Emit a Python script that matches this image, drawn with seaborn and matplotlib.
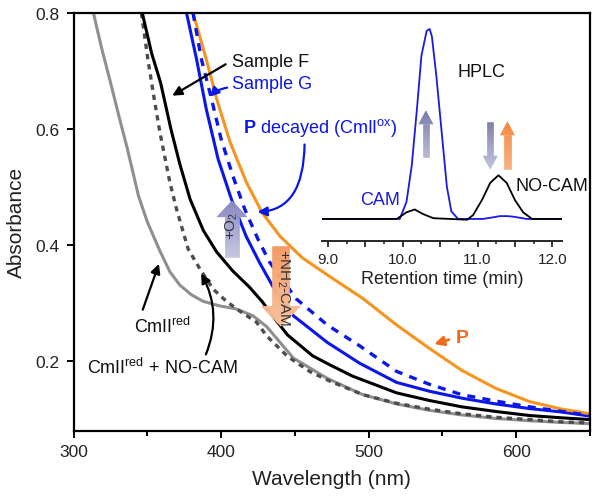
import numpy as np
import seaborn as sns
import matplotlib
matplotlib.use("Agg")
import matplotlib.pyplot as plt
from matplotlib.patches import Polygon
from matplotlib.colors import to_rgb
from matplotlib.ticker import MultipleLocator

# ---- UV-vis spectra (wavelength nm, absorbance) ----
cmii_red_wl = [313.5, 319, 325, 331, 336.5, 344, 350, 358.5, 365.3, 372, 380, 387.8, 399, 410, 421.6, 431, 449, 472, 496, 519, 541, 563, 586, 609, 631, 650]
cmii_red_a = [0.80, 0.74, 0.681, 0.62, 0.566, 0.485, 0.44, 0.39, 0.354, 0.331, 0.314, 0.303, 0.295, 0.290, 0.278, 0.259, 0.205, 0.170, 0.142, 0.126, 0.115, 0.107, 0.101, 0.097, 0.094, 0.092]

cmii_nocam_wl = [346, 350.4, 354.5, 358.5, 365.3, 369.8, 377.7, 385.6, 394.6, 403.6, 412.7, 424, 431, 445, 460, 474, 496, 519, 541, 563, 586, 609, 631, 650]
cmii_nocam_a = [0.80, 0.72, 0.655, 0.595, 0.508, 0.462, 0.393, 0.359, 0.324, 0.303, 0.286, 0.267, 0.243, 0.208, 0.182, 0.165, 0.142, 0.127, 0.117, 0.109, 0.103, 0.099, 0.095, 0.093]

sample_f_wl = [346.6, 353, 359, 366, 372, 379, 388, 397, 408, 419, 428, 433, 445, 462, 474, 489, 519, 541, 563, 586, 609, 631, 650]
sample_f_a = [0.80, 0.73, 0.68, 0.60, 0.54, 0.479, 0.425, 0.388, 0.355, 0.328, 0.302, 0.284, 0.245, 0.209, 0.193, 0.174, 0.145, 0.132, 0.121, 0.113, 0.106, 0.102, 0.099]

sample_g_wl = [376.6, 383.4, 390, 398, 407, 417, 426, 435, 449, 472, 494, 519, 541, 563, 586, 609, 631, 650]
sample_g_a = [0.80, 0.72, 0.634, 0.548, 0.479, 0.415, 0.37, 0.329, 0.278, 0.232, 0.196, 0.163, 0.148, 0.136, 0.126, 0.118, 0.112, 0.105]

p_decayed_wl = [381, 386.7, 393.5, 400, 408, 416, 425, 433, 451, 472, 494, 519, 541, 563, 586, 609, 631, 650]
p_decayed_a = [0.80, 0.72, 0.652, 0.583, 0.519, 0.462, 0.41, 0.37, 0.307, 0.262, 0.226, 0.182, 0.160, 0.142, 0.131, 0.121, 0.113, 0.106]

p_wl = [381, 390, 397, 406, 417, 428, 440, 455, 474, 496, 519, 541, 563, 586, 609, 631, 650]
p_a = [0.80, 0.72, 0.652, 0.578, 0.509, 0.455, 0.415, 0.378, 0.345, 0.308, 0.262, 0.222, 0.184, 0.153, 0.130, 0.117, 0.109]

# ---- HPLC inset (retention time min, normalised signal) ----
hplc_cam_t = [8.92, 9.5, 9.96, 10.05, 10.12, 10.19, 10.25, 10.32, 10.36, 10.39, 10.45, 10.52, 10.59, 10.65, 10.74, 11.07, 11.2, 11.3, 11.4, 11.48, 11.66, 12.13]
hplc_cam_i = [0.0, 0.0, 0.0, 0.09, 0.28, 0.58, 0.86, 0.99, 1.0, 0.96, 0.75, 0.46, 0.17, 0.04, 0.0, 0.0, 0.008, 0.015, 0.015, 0.012, 0.0, 0.0]

hplc_f_t = [8.92, 9.5, 9.92, 10.05, 10.16, 10.27, 10.41, 10.86, 10.94, 11.06, 11.17, 11.28, 11.39, 11.5, 11.61, 11.73, 12.13]
hplc_f_i = [0.0, 0.0, 0.0, 0.035, 0.05, 0.026, 0.004, -0.004, 0.02, 0.1, 0.19, 0.23, 0.19, 0.1, 0.035, 0.0, 0.0]

sns.set_theme(style="ticks")
plt.rcParams["font.family"] = ["Liberation Sans", "DejaVu Sans"]
plt.rcParams["mathtext.fontset"] = "custom"
plt.rcParams["mathtext.rm"] = "Liberation Sans"
plt.rcParams["mathtext.bf"] = "Liberation Sans:bold"
plt.rcParams["mathtext.it"] = "Liberation Sans:italic"

fig = plt.figure(figsize=(6, 5.02), dpi=100)
ax = fig.add_axes([73.5 / 600, 1 - 431.6 / 502, 516.5 / 600, 417.6 / 502])

ORANGE = "#f7941d"
BLUE = "#0b16e8"

sns.lineplot(x=cmii_red_wl, y=cmii_red_a, ax=ax, color="#8f8f8f", lw=2.2)
sns.lineplot(x=cmii_nocam_wl, y=cmii_nocam_a, ax=ax, color="#4d4d4d", lw=2.4)
ax.lines[-1].set_dashes([1.6, 1.5])
sns.lineplot(x=sample_f_wl, y=sample_f_a, ax=ax, color="black", lw=2.2)
sns.lineplot(x=sample_g_wl, y=sample_g_a, ax=ax, color=BLUE, lw=2.2)
sns.lineplot(x=p_wl, y=p_a, ax=ax, color=ORANGE, lw=2.2)
sns.lineplot(x=p_decayed_wl, y=p_decayed_a, ax=ax, color=BLUE, lw=2.4)
ax.lines[-1].set_dashes([2.4, 2.2])

ax.set_xlim(300, 650)
ax.set_ylim(0.08, 0.8)
ax.xaxis.set_major_locator(MultipleLocator(100))
ax.xaxis.set_minor_locator(MultipleLocator(50))
ax.yaxis.set_major_locator(MultipleLocator(0.2))
ax.tick_params(axis="both", which="major", direction="out", length=5, width=1.4,
               labelsize=12.5, color="black", labelcolor="#222222", pad=5)
ax.tick_params(axis="x", which="minor", direction="out", length=3.5, width=1.4, color="black")
for s in ax.spines.values():
    s.set_linewidth(1.6)
    s.set_color("black")
ax.set_xlabel("Wavelength (nm)", fontsize=15, labelpad=7, color="#222222")
ax.set_ylabel("Absorbance", fontsize=15, labelpad=7, color="#222222")

# ---- inset ----
ins = fig.add_axes([322 / 600, 1 - 242 / 502, 240 / 600, 217 / 502])
ins.patch.set_alpha(0)
sns.lineplot(x=hplc_cam_t, y=hplc_cam_i, ax=ins, color="#1a1ae0", lw=1.3)
sns.lineplot(x=hplc_f_t, y=hplc_f_i, ax=ins, color="black", lw=1.3)
ins.set_xlim(8.92, 12.13)
ins.set_ylim(-0.116, 1.026)
for k in ["left", "right", "top"]:
    ins.spines[k].set_visible(False)
ins.spines["bottom"].set_linewidth(1.4)
ins.set_yticks([])
ins.xaxis.set_major_locator(MultipleLocator(0.5))
ins.xaxis.set_minor_locator(MultipleLocator(0.25))
ins.xaxis.set_major_formatter(lambda v, p: f"{v:.1f}" if abs(v - round(v)) < 1e-6 else "")
ins.tick_params(axis="x", which="major", direction="out", length=4.5, width=1.3, labelsize=11, pad=3.5, labelcolor="#222222")
ins.tick_params(axis="x", which="minor", direction="out", length=2.5, width=1.2)
ins.set_xlabel("Retention time (min)", fontsize=13, labelpad=3, color="#222222")
ins.set_ylabel("")
ins.text(11.05, 0.774, "HPLC", fontsize=13, ha="center", va="center", color="#111111")
ins.text(9.70, 0.105, "CAM", fontsize=13, ha="center", va="center", color="#1a1ae0")
ins.text(11.99, 0.174, "NO-CAM", fontsize=13, ha="center", va="center", color="#111111")


def grad_arrow(a, tail, tip, body_w, head_w, head_len, c_tail, c_tip, n=24):
    to_px = a.transData.transform
    p0 = np.array(to_px(tail))
    p1 = np.array(to_px(tip))
    d = p1 - p0
    L = np.hypot(*d)
    u = d / L
    nrm = np.array([-u[1], u[0]])
    sb = L - head_len
    st = np.concatenate([np.linspace(0, sb, n + 1), np.linspace(sb, L, n + 1)[1:]])
    ca, cb = np.array(to_rgb(c_tail)), np.array(to_rgb(c_tip))
    inv = a.transData.inverted()
    for i in range(len(st) - 1):
        s0, s1 = st[i], st[i + 1]
        if s1 <= sb + 1e-9:
            w0 = w1 = body_w / 2
        else:
            w0 = head_w / 2 * (L - s0) / head_len
            w1 = head_w / 2 * (L - s1) / head_len
        pts = [p0 + u * s0 + nrm * w0, p0 + u * s1 + nrm * w1,
               p0 + u * s1 - nrm * w1, p0 + u * s0 - nrm * w0]
        c = ca + (cb - ca) * ((s0 + s1) / 2 / L)
        a.add_patch(Polygon(inv.transform(pts), closed=True, fc=c, ec=c, lw=0.4, clip_on=False, zorder=5))


fig.canvas.draw()
# main-panel block arrows
grad_arrow(ax, (407.4, 0.379), (407.4, 0.476), 14, 30, 16, "#c6c6e2", "#8888c0")
ax.text(407.4, 0.434, "+O$_2$", rotation=90, fontsize=11, ha="center", va="center", color="#333333", zorder=6)
grad_arrow(ax, (440.5, 0.398), (440.5, 0.260), 17, 39, 20, "#f29a66", "#f8c29c")
ax.text(441.9, 0.328, "+NH$_2$-CAM", rotation=270, fontsize=11, ha="center", va="center", color="#333333", zorder=6)
# inset block arrows
grad_arrow(ins, (10.31, 0.326), (10.31, 0.568), 6.5, 14, 13, "#b8b8d4", "#7c7cac")
grad_arrow(ins, (11.17, 0.51), (11.17, 0.263), 6.5, 14, 13, "#7c7cac", "#c4c4e0")
grad_arrow(ins, (11.40, 0.263), (11.40, 0.51), 6.5, 14, 13, "#f8b080", "#f58a40")

# labels and pointer arrows
ax.text(407.4, 0.717, "Sample F", fontsize=13, ha="left", va="center", color="#111111")
ax.annotate("", xy=(365.3, 0.655), xytext=(404.7, 0.714),
            arrowprops=dict(arrowstyle="-|>", color="black", lw=1.6, mutation_scale=14))
ax.text(407.4, 0.678, "Sample G", fontsize=13, ha="left", va="center", color=BLUE)
ax.annotate("", xy=(391.0, 0.652), xytext=(406.0, 0.672),
            arrowprops=dict(arrowstyle="-|>", color=BLUE, lw=1.6, mutation_scale=14,
                            connectionstyle="arc3,rad=0.2"))
ax.text(414.8, 0.603, r"$\mathbf{P}$ decayed (CmII$^\mathregular{ox}$)", fontsize=13,
        ha="left", va="center", color=BLUE)
ax.annotate("", xy=(422.8, 0.457), xytext=(456.6, 0.578),
            arrowprops=dict(arrowstyle="-|>", color=BLUE, lw=1.6, mutation_scale=14,
                            connectionstyle="angle3,angleA=90,angleB=0"))
ax.text(360.6, 0.260, r"CmII$^\mathregular{red}$", fontsize=13, ha="center", va="center", color="#111111")
ax.annotate("", xy=(358.5, 0.372), xytext=(346.3, 0.284),
            arrowprops=dict(arrowstyle="-|>", color="black", lw=1.6, mutation_scale=14))
ax.text(359.9, 0.190, r"CmII$^\mathregular{red}$ + NO-CAM", fontsize=13, ha="center", va="center", color="#111111")
ax.annotate("", xy=(385.6, 0.355), xytext=(389.0, 0.207),
            arrowprops=dict(arrowstyle="-|>", color="black", lw=1.6, mutation_scale=14,
                            connectionstyle="arc3,rad=0.25"))
ax.text(563.5, 0.241, "P", fontsize=14, fontweight="bold", ha="center", va="center", color="#f26b1d")
ax.annotate("", xy=(542.6, 0.228), xytext=(556.2, 0.238),
            arrowprops=dict(arrowstyle="-|>", color="#f26b1d", lw=2, mutation_scale=14))

fig.savefig("out.png", dpi=100)
